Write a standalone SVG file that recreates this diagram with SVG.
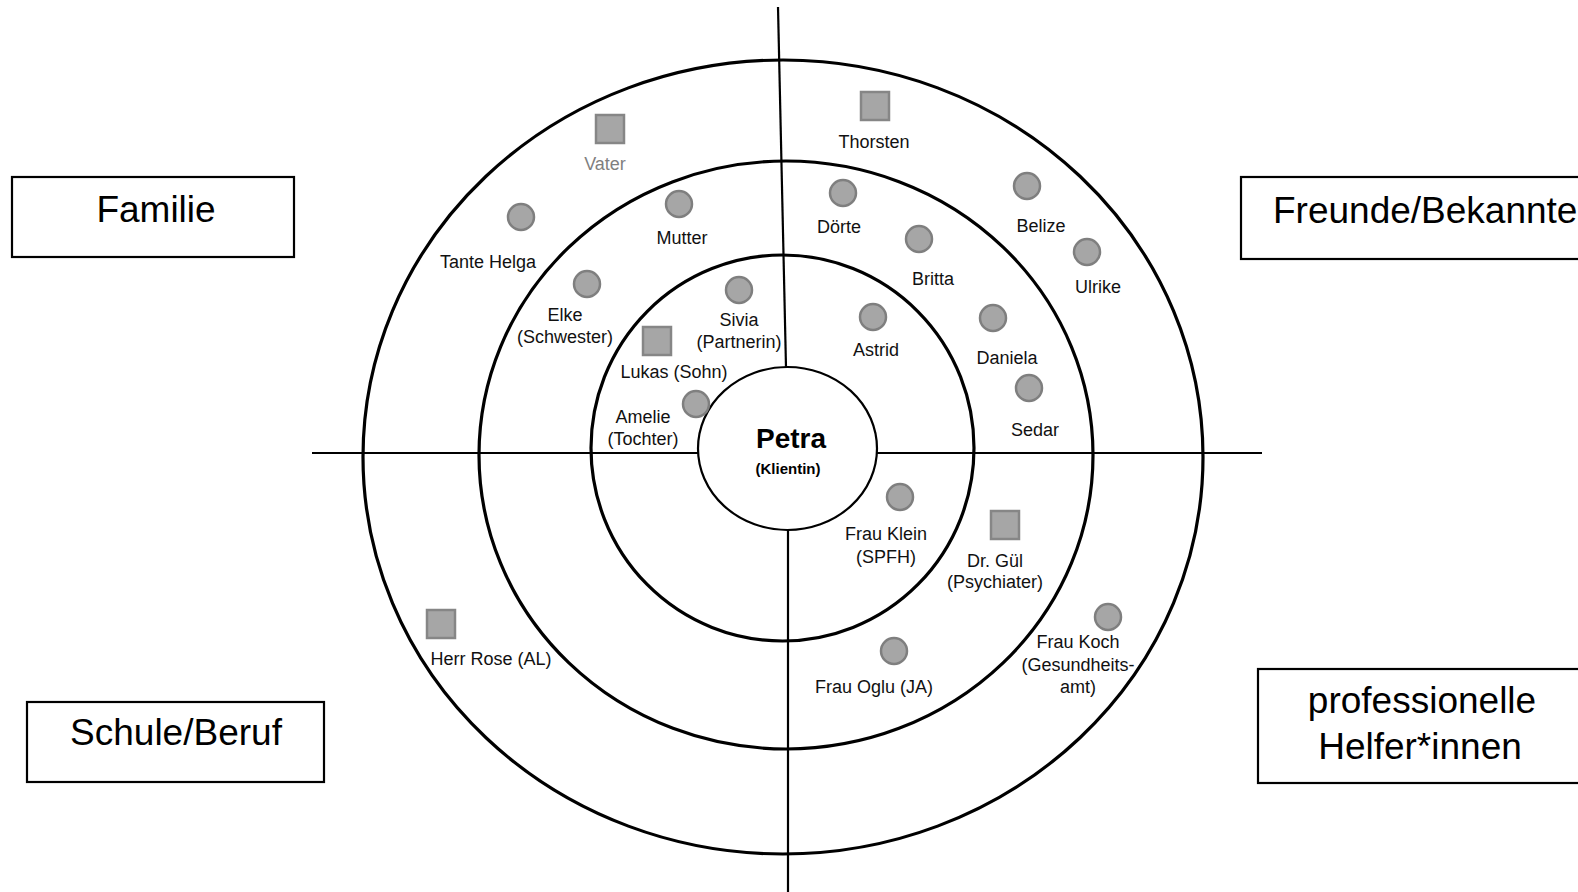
<svg xmlns="http://www.w3.org/2000/svg" width="1578" height="892" viewBox="0 0 1578 892">
<style>
.ring{fill:none;stroke:#000;stroke-width:3.2}
.ax{fill:none;stroke:#000;stroke-width:2.2}
.c{fill:#a6a6a6;stroke:#7f7f7f;stroke-width:2.5}
.s{fill:#a6a6a6;stroke:#868686;stroke-width:2.5}
.t{font-family:"Liberation Sans",Arial,sans-serif;font-size:18px;fill:#111;text-anchor:middle}
.box{fill:#fff;stroke:#000;stroke-width:2.2}
.bt{font-family:"Liberation Sans",Arial,sans-serif;font-size:37px;fill:#000;text-anchor:middle}
</style>
<rect width="1578" height="892" fill="#fff"/>
<g id="rings">
<ellipse class="ring" cx="783" cy="457" rx="420" ry="397"/>
<ellipse class="ring" cx="786" cy="455" rx="307" ry="294"/>
<ellipse class="ring" cx="782.5" cy="448" rx="191.5" ry="193"/>
</g>
<g id="connectors">
<line class="ax" x1="778" y1="7" x2="786" y2="367"/>
<line class="ax" x1="788" y1="530" x2="788" y2="892"/>
<line class="ax" x1="312" y1="453" x2="698" y2="453"/>
<line class="ax" x1="877" y1="453" x2="1262" y2="453"/>
</g>
<g id="petra">
<ellipse cx="787.5" cy="448.5" rx="89.5" ry="81.5" fill="#fff" stroke="#000" stroke-width="2.2"/>
<text x="791" y="448" style="font-family:'Liberation Sans',Arial,sans-serif;font-size:28px;font-weight:bold;text-anchor:middle">Petra</text>
<text x="788" y="474" style="font-family:'Liberation Sans',Arial,sans-serif;font-size:15px;font-weight:bold;text-anchor:middle">(Klientin)</text>
</g>
<g id="box-familie"><rect class="box" x="12" y="177" width="282" height="80"/><text class="bt" x="156" y="222">Familie</text></g>
<g id="box-freunde"><rect class="box" x="1241" y="177" width="360" height="82"/><text class="bt" x="1273" y="223" style="text-anchor:start">Freunde/Bekannte</text></g>
<g id="box-schule"><rect class="box" x="27" y="702" width="297" height="80"/><text class="bt" x="176" y="745">Schule/Beruf</text></g>
<g id="box-helfer"><rect class="box" x="1258" y="669" width="340" height="114"/><text class="bt" x="1422" y="713">professionelle</text><text class="bt" x="1420" y="759">Helfer*innen</text></g>
<g id="vater"><rect class="s" x="596" y="115" width="28" height="28"/><text class="t" x="605" y="170" style="fill:#7f7f7f">Vater</text></g>
<g id="tante-helga"><circle class="c" cx="521" cy="217" r="13"/><text class="t" x="488" y="268">Tante Helga</text></g>
<g id="mutter"><circle class="c" cx="679" cy="204" r="13"/><text class="t" x="682" y="244">Mutter</text></g>
<g id="elke"><circle class="c" cx="587" cy="284" r="13"/><text class="t" x="565" y="321">Elke</text><text class="t" x="565" y="343">(Schwester)</text></g>
<g id="sivia"><circle class="c" cx="739" cy="290" r="13"/><text class="t" x="739" y="326">Sivia</text><text class="t" x="739" y="348">(Partnerin)</text></g>
<g id="lukas"><rect class="s" x="643" y="327" width="28" height="28"/><text class="t" x="674" y="378">Lukas (Sohn)</text></g>
<g id="amelie"><circle class="c" cx="696" cy="404" r="13"/><text class="t" x="643" y="423">Amelie</text><text class="t" x="643" y="445">(Tochter)</text></g>
<g id="thorsten"><rect class="s" x="861" y="92" width="28" height="28"/><text class="t" x="874" y="148">Thorsten</text></g>
<g id="doerte"><circle class="c" cx="843" cy="193" r="13"/><text class="t" x="839" y="233">Dörte</text></g>
<g id="belize"><circle class="c" cx="1027" cy="186" r="13"/><text class="t" x="1041" y="232">Belize</text></g>
<g id="britta"><circle class="c" cx="919" cy="239" r="13"/><text class="t" x="933" y="285">Britta</text></g>
<g id="ulrike"><circle class="c" cx="1087" cy="252" r="13"/><text class="t" x="1098" y="293">Ulrike</text></g>
<g id="astrid"><circle class="c" cx="873" cy="317" r="13"/><text class="t" x="876" y="356">Astrid</text></g>
<g id="daniela"><circle class="c" cx="993" cy="318" r="13"/><text class="t" x="1007" y="364">Daniela</text></g>
<g id="sedar"><circle class="c" cx="1029" cy="388" r="13"/><text class="t" x="1035" y="436">Sedar</text></g>
<g id="frau-klein"><circle class="c" cx="900" cy="497" r="13"/><text class="t" x="886" y="540">Frau Klein</text><text class="t" x="886" y="563">(SPFH)</text></g>
<g id="dr-guel"><rect class="s" x="991" y="511" width="28" height="28"/><text class="t" x="995" y="567">Dr. Gül</text><text class="t" x="995" y="588">(Psychiater)</text></g>
<g id="frau-koch"><circle class="c" cx="1108" cy="617" r="13"/><text class="t" x="1078" y="648">Frau Koch</text><text class="t" x="1078" y="671">(Gesundheits-</text><text class="t" x="1078" y="693">amt)</text></g>
<g id="frau-oglu"><circle class="c" cx="894" cy="651" r="13"/><text class="t" x="874" y="693">Frau Oglu (JA)</text></g>
<g id="herr-rose"><rect class="s" x="427" y="610" width="28" height="28"/><text class="t" x="491" y="665">Herr Rose (AL)</text></g>
</svg>
